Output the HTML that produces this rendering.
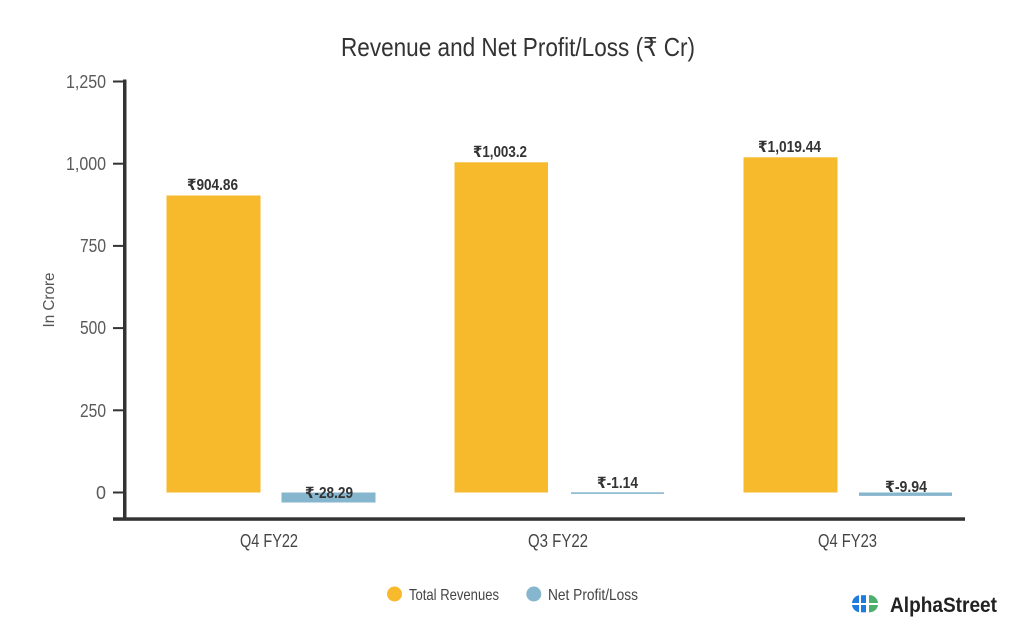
<!DOCTYPE html>
<html>
<head>
<meta charset="utf-8">
<style>
  html,body{margin:0;padding:0;background:#fff;}
  svg{display:block;}
  text{font-family:"Liberation Sans","DejaVu Sans",sans-serif;}
</style>
</head>
<body>
<svg width="1024" height="640" viewBox="0 0 1024 640" xmlns="http://www.w3.org/2000/svg">
  <rect x="0" y="0" width="1024" height="640" fill="#ffffff"/>

  <!-- Title -->
  <text x="341" y="56" font-size="26" fill="#333" textLength="354" lengthAdjust="spacingAndGlyphs">Revenue and Net Profit/Loss (₹ Cr)</text>

  <!-- Y axis label -->
  <text transform="translate(54,300) rotate(-90)" text-anchor="middle" font-size="16" fill="#555" textLength="55" lengthAdjust="spacingAndGlyphs">In Crore</text>

  <!-- Y ticks -->
  <g stroke="#333" stroke-width="2">
    <line x1="113" y1="81.5" x2="125" y2="81.5"/>
    <line x1="113" y1="163.7" x2="125" y2="163.7"/>
    <line x1="113" y1="245.9" x2="125" y2="245.9"/>
    <line x1="113" y1="328.1" x2="125" y2="328.1"/>
    <line x1="113" y1="410.3" x2="125" y2="410.3"/>
    <line x1="113" y1="492.5" x2="125" y2="492.5"/>
  </g>
  <g font-size="18" fill="#5a5a5a" text-anchor="end">
    <text x="106" y="88" textLength="40" lengthAdjust="spacingAndGlyphs">1,250</text>
    <text x="106" y="170" textLength="40" lengthAdjust="spacingAndGlyphs">1,000</text>
    <text x="106" y="252" textLength="26" lengthAdjust="spacingAndGlyphs">750</text>
    <text x="106" y="334" textLength="26" lengthAdjust="spacingAndGlyphs">500</text>
    <text x="106" y="417" textLength="26" lengthAdjust="spacingAndGlyphs">250</text>
    <text x="106" y="499" textLength="10" lengthAdjust="spacingAndGlyphs">0</text>
  </g>

  <!-- Revenue bars -->
  <g fill="#F6BA2C">
    <rect x="166.5" y="195.5" width="94" height="297"/>
    <rect x="454.5" y="162.3" width="93.5" height="330.2"/>
    <rect x="743.5" y="157.3" width="94" height="335.2"/>
  </g>

  <!-- Net profit bars -->
  <g fill="#86B6CE">
    <rect x="281.5" y="492.5" width="94" height="10"/>
    <rect x="571" y="492.3" width="93" height="1.6"/>
    <rect x="859" y="492.5" width="93" height="3.4"/>
  </g>

  <!-- Axes -->
  <rect x="123" y="79.5" width="3.5" height="441" fill="#333"/>
  <rect x="113" y="517.3" width="852" height="3.5" fill="#333"/>

  <!-- Bar value labels -->
  <g font-size="15.5" font-weight="bold" fill="#333">
    <text x="187" y="190" textLength="51" lengthAdjust="spacingAndGlyphs">₹904.86</text>
    <text x="473" y="157" textLength="54" lengthAdjust="spacingAndGlyphs">₹1,003.2</text>
    <text x="758" y="152" textLength="63" lengthAdjust="spacingAndGlyphs">₹1,019.44</text>
    <text x="305" y="498" textLength="48" lengthAdjust="spacingAndGlyphs">₹-28.29</text>
    <text x="597" y="488" textLength="41" lengthAdjust="spacingAndGlyphs">₹-1.14</text>
    <text x="885" y="492" textLength="42" lengthAdjust="spacingAndGlyphs">₹-9.94</text>
  </g>

  <!-- Category labels -->
  <g font-size="18" fill="#444">
    <text x="240" y="547" textLength="58" lengthAdjust="spacingAndGlyphs">Q4 FY22</text>
    <text x="528" y="547" textLength="60" lengthAdjust="spacingAndGlyphs">Q3 FY22</text>
    <text x="818" y="547" textLength="59" lengthAdjust="spacingAndGlyphs">Q4 FY23</text>
  </g>

  <!-- Legend -->
  <circle cx="394.5" cy="594" r="7.5" fill="#F6BA2C"/>
  <text x="409" y="600" font-size="16" fill="#444" textLength="90" lengthAdjust="spacingAndGlyphs">Total Revenues</text>
  <circle cx="533.8" cy="594" r="7.5" fill="#86B6CE"/>
  <text x="548" y="600" font-size="16" fill="#444" textLength="90" lengthAdjust="spacingAndGlyphs">Net Profit/Loss</text>

  <!-- Logo -->
  <g>
    <path d="M852,603 A8.5,8.5 0 0 1 859,595.2 L859,603 Z" fill="#1E7BE0"/>
    <path d="M852,605 A8.5,8.5 0 0 0 859,612.3 L859,605 Z" fill="#1E7BE0"/>
    <rect x="861" y="595.2" width="5" height="7.8" fill="#1E7BE0"/>
    <rect x="861" y="605" width="5" height="7.3" fill="#1E7BE0"/>
    <path d="M869,595.2 A8.5,8.5 0 0 1 878,603 L869,603 Z" fill="#4CAF6E"/>
    <path d="M869,612.3 A8.5,8.5 0 0 0 878,605 L869,605 Z" fill="#4CAF6E"/>
  </g>
  <text x="890" y="612" font-size="21" font-weight="bold" fill="#222" textLength="107" lengthAdjust="spacingAndGlyphs">AlphaStreet</text>
</svg>
</body>
</html>
